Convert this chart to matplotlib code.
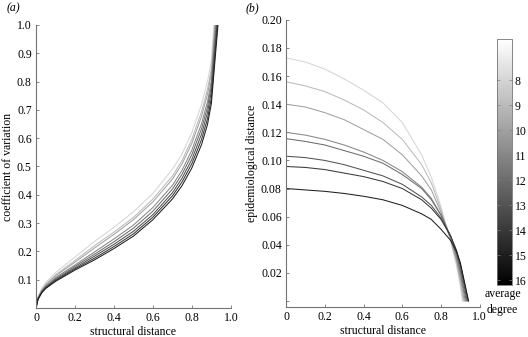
import numpy as np
import matplotlib
matplotlib.use('Agg')
import matplotlib.pyplot as plt
from matplotlib import cm, colors

# average degree of each curve (light -> dark)
degrees = [8, 9, 10, 11, 12, 13, 14, 15]

# (a) coefficient of variation vs structural distance
a_x = [0, 0.01, 0.03, 0.05, 0.1, 0.2, 0.3, 0.4, 0.5, 0.6, 0.7, 0.75, 0.8, 0.85, 0.88, 0.9]
a_end = [0.913, 0.917, 0.919, 0.922, 0.925, 0.928, 0.931, 0.934]
a_top = 1.0
a_cv = [
    [0, 0.040, 0.070, 0.090, 0.125, 0.180, 0.235, 0.285, 0.340, 0.405, 0.490, 0.545, 0.620, 0.720, 0.800, 0.870],
    [0, 0.037, 0.065, 0.084, 0.117, 0.168, 0.220, 0.268, 0.320, 0.385, 0.466, 0.522, 0.596, 0.694, 0.772, 0.845],
    [0, 0.036, 0.063, 0.081, 0.113, 0.162, 0.212, 0.260, 0.312, 0.375, 0.455, 0.510, 0.582, 0.678, 0.755, 0.828],
    [0, 0.034, 0.060, 0.077, 0.107, 0.152, 0.198, 0.244, 0.293, 0.355, 0.433, 0.487, 0.558, 0.652, 0.728, 0.802],
    [0, 0.033, 0.058, 0.075, 0.103, 0.147, 0.190, 0.234, 0.282, 0.342, 0.420, 0.473, 0.542, 0.634, 0.710, 0.785],
    [0, 0.032, 0.057, 0.073, 0.100, 0.142, 0.183, 0.225, 0.271, 0.330, 0.407, 0.459, 0.525, 0.615, 0.690, 0.765],
    [0, 0.031, 0.056, 0.071, 0.097, 0.138, 0.176, 0.217, 0.262, 0.321, 0.396, 0.446, 0.510, 0.596, 0.668, 0.742],
    [0, 0.030, 0.054, 0.069, 0.094, 0.134, 0.170, 0.210, 0.254, 0.312, 0.385, 0.433, 0.495, 0.578, 0.648, 0.722],
]

# (b) epidemiological distance vs structural distance
b_x = [0, 0.1, 0.2, 0.3, 0.4, 0.5, 0.6, 0.7, 0.75, 0.8, 0.85, 0.88, 0.9]
b_end = [0.91, 0.915, 0.92, 0.925, 0.93, 0.935, 0.94, 0.942]
b_ed = [
    [0.173, 0.170, 0.165, 0.158, 0.150, 0.141, 0.127, 0.104, 0.088, 0.067, 0.042, 0.025, 0.010],
    [0.156, 0.153, 0.149, 0.143, 0.136, 0.127, 0.115, 0.097, 0.084, 0.065, 0.043, 0.027, 0.013],
    [0.140, 0.138, 0.134, 0.129, 0.122, 0.115, 0.104, 0.089, 0.079, 0.063, 0.044, 0.029, 0.016],
    [0.120, 0.118, 0.115, 0.111, 0.106, 0.100, 0.092, 0.081, 0.073, 0.061, 0.045, 0.031, 0.019],
    [0.1155, 0.1135, 0.111, 0.107, 0.103, 0.098, 0.090, 0.080, 0.072, 0.061, 0.046, 0.033, 0.021],
    [0.103, 0.102, 0.100, 0.097, 0.093, 0.089, 0.083, 0.074, 0.068, 0.059, 0.046, 0.035, 0.024],
    [0.0957, 0.095, 0.0935, 0.091, 0.0885, 0.085, 0.080, 0.072, 0.066, 0.058, 0.046, 0.036, 0.026],
    [0.080, 0.079, 0.078, 0.0765, 0.0745, 0.072, 0.068, 0.062, 0.058, 0.051, 0.043, 0.035, 0.027],
]

a_xticks = [0, 0.2, 0.4, 0.6, 0.8, 1.0]
a_yticks = [0.1, 0.2, 0.3, 0.4, 0.5, 0.6, 0.7, 0.8, 0.9, 1.0]
b_yticks = [0, 0.02, 0.04, 0.06, 0.08, 0.10, 0.12, 0.14, 0.16, 0.18, 0.20]
cb_ticks = [8, 9, 10, 11, 12, 13, 14, 15, 16]

plt.rcParams['font.family'] = 'Liberation Serif'
plt.rcParams['font.size'] = 8.5

spine_col = '0.45'
norm = colors.Normalize(vmin=6.36, vmax=16.2)
cmap = plt.get_cmap('gray_r')

fig = plt.figure(figsize=(5.28, 3.37), dpi=100)
ax1 = fig.add_axes([0.0682, 0.086, 0.369, 0.840])
ax2 = fig.add_axes([0.5417, 0.089, 0.367, 0.852])
cax = fig.add_axes([0.941, 0.154, 0.0284, 0.730])

def style(ax):
    for s in ['top', 'right']:
        ax.spines[s].set_visible(False)
    for s in ['left', 'bottom']:
        ax.spines[s].set_color(spine_col)
        ax.spines[s].set_linewidth(0.8)
    ax.tick_params(direction='in', length=2.5, width=0.6, color=spine_col, pad=3)

# panel a
for i, d in enumerate(degrees):
    xs = a_x + [a_end[i]]
    ys = a_cv[i] + [a_top]
    ax1.plot(xs, ys, color=cmap(norm(d)), linewidth=0.75)
ax1.set_xlim(0, 1.0)
ax1.set_ylim(0, 1.0)
ax1.set_xticks(a_xticks)
ax1.set_xticklabels(['0', '0.2', '0.4', '0.6', '0.8', '1.0'])
ax1.set_yticks(a_yticks)
ax1.set_yticklabels(['%.1f' % v for v in a_yticks])
ax1.set_xlabel('structural distance', labelpad=1)
ax1.set_ylabel('coefficient of variation', labelpad=2)
style(ax1)

# panel b
for i, d in enumerate(degrees):
    xs = b_x + [b_end[i]]
    ys = b_ed[i] + [0]
    ax2.plot(xs, ys, color=cmap(norm(d)), linewidth=0.75)
ax2.set_xlim(0, 1.0)
ax2.set_ylim(-0.0043, 0.20)
ax2.set_xticks(a_xticks)
ax2.set_xticklabels(['0', '0.2', '0.4', '0.6', '0.8', '1.0'])
ax2.set_yticks(b_yticks)
ax2.set_yticklabels([''] + ['%.2f' % v for v in b_yticks[1:]])
ax2.set_xlabel('structural distance', labelpad=1)
ax2.set_ylabel('epidemiological distance', labelpad=2)
style(ax2)

# colour bar
sm = cm.ScalarMappable(norm=norm, cmap=cmap)
cb = fig.colorbar(sm, cax=cax)
cb.ax.invert_yaxis()
cb.set_ticks(cb_ticks)
cb.outline.set_edgecolor(spine_col)
cb.outline.set_linewidth(0.6)
cb.ax.tick_params(direction='in', length=2, width=0.5, color='0.5', left=True, right=True, pad=2)
fig.text(0.952, 0.128, 'average', ha='center', va='center')
fig.text(0.952, 0.080, 'degree', ha='center', va='center')

fig.text(0.012, 0.975, '(a)', style='italic', va='center')
fig.text(0.466, 0.975, '(b)', style='italic', va='center')

fig.savefig('out.png', dpi=100)
